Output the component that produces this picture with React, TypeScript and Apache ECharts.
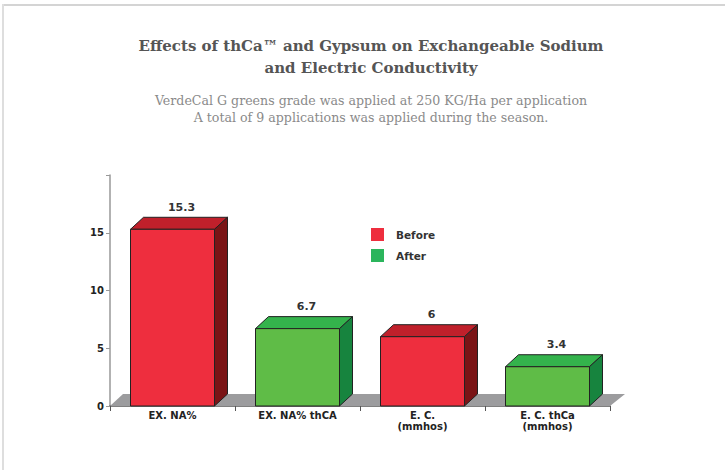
import React, { useEffect, useRef } from "react";
import * as echarts from "echarts";

const categories = ["EX. NA%", "EX. NA% thCA", "E. C.\n(mmhos)", "E. C. thCa\n(mmhos)"];
const beforeValues: [number, number][] = [[0, 15.3], [2, 6]];
const afterValues: [number, number][] = [[1, 6.7], [3, 3.4]];
const yTicks = [0, 5, 10, 15, 20];

const titleText = "Effects of thCa\u2122 and Gypsum on Exchangeable Sodium\nand Electric Conductivity";
const subText = "VerdeCal G greens grade was applied at 250 KG/Ha per application\nA total of 9 applications was applied during the season.";

const DX = 13;
const DY = 12;

function makeRender(front: string, top: string, side: string) {
  return (params: any, api: any) => {
    const idx = api.value(0);
    const val = api.value(1);
    const base = api.coord([idx, 0]);
    const tp = api.coord([idx, val]);
    const bw = api.size([1, 0])[0] * 0.672;
    const x0 = base[0] - bw / 2;
    const x1 = base[0] + bw / 2;
    const y0 = base[1];
    const y1 = tp[1];
    const stroke = "#222";
    return {
      type: "group",
      children: [
        {
          type: "polygon",
          shape: { points: [[x0, y1], [x1, y1], [x1 + DX, y1 - DY], [x0 + DX, y1 - DY]] },
          style: { fill: top, stroke, lineWidth: 1 },
        },
        {
          type: "polygon",
          shape: { points: [[x1, y0], [x1, y1], [x1 + DX, y1 - DY], [x1 + DX, y0 - DY]] },
          style: { fill: side, stroke, lineWidth: 1 },
        },
        {
          type: "rect",
          shape: { x: x0, y: y1, width: bw, height: y0 - y1 },
          style: { fill: front, stroke, lineWidth: 1 },
        },
        {
          type: "text",
          style: {
            text: String(val),
            x: base[0] + 9,
            y: y1 - DY - 10,
            align: "center",
            verticalAlign: "middle",
            fontFamily: "DejaVu Sans",
            fontWeight: "bold",
            fontSize: 11,
            fill: "#333",
          },
        },
      ],
    };
  };
}

export default function App() {
  const ref = useRef<HTMLDivElement>(null);
  useEffect(() => {
    if (!ref.current) return;
    const chart = echarts.init(ref.current, undefined, { renderer: "svg" });
    chart.setOption({
      animation: false,
      backgroundColor: "#fff",
      title: {
        text: titleText,
        subtext: subText,
        left: 366,
        textAlign: "center",
        top: 30,
        itemGap: 13,
        textStyle: {
          fontFamily: "DejaVu Serif",
          fontWeight: "bold",
          fontSize: 15,
          lineHeight: 22,
          color: "#555",
        },
        subtextStyle: {
          fontFamily: "DejaVu Serif",
          fontSize: 12.6,
          lineHeight: 17,
          color: "#8a8a8a",
        },
      },
      legend: {
        orient: "vertical",
        left: 366,
        top: 223,
        itemWidth: 13,
        itemHeight: 13,
        itemGap: 8,
        icon: "rect",
        textStyle: {
          fontFamily: "DejaVu Sans",
          fontWeight: "bold",
          fontSize: 10.5,
          color: "#333",
          padding: [0, 0, 0, 7],
        },
        data: [
          { name: "Before", itemStyle: { color: "#ee2e3e" } },
          { name: "After", itemStyle: { color: "#2bb55c" } },
        ],
      },
      grid: { left: 110, right: 115, top: 175, bottom: 64, containLabel: false },
      xAxis: {
        type: "category",
        data: categories,
        axisLine: { lineStyle: { color: "#555", width: 1.5 } },
        axisTick: { show: true, length: 5, lineStyle: { color: "#555" } },
        axisLabel: {
          margin: 4,
          fontFamily: "DejaVu Sans",
          fontWeight: "bold",
          fontSize: 10,
          lineHeight: 11,
          color: "#222",
          interval: 0,
        },
      },
      yAxis: {
        type: "value",
        min: yTicks[0],
        max: yTicks[yTicks.length - 1],
        interval: 5,
        splitLine: { show: false },
        axisLine: { show: true, lineStyle: { color: "#999", width: 1.5 } },
        axisTick: { show: true, length: 4, lineStyle: { color: "#999" } },
        axisLabel: {
          margin: 6,
          fontFamily: "DejaVu Sans",
          fontWeight: "bold",
          fontSize: 10,
          color: "#222",
          formatter: (v: number) => (v === 20 ? "" : String(v)),
        },
      },
      graphic: [
        { type: "rect", shape: { x: 3, y: 4, width: 722, height: 2 }, style: { fill: "#d4d4d4" }, silent: true },
        { type: "rect", shape: { x: 2, y: 4, width: 2, height: 466 }, style: { fill: "#dedede" }, silent: true },
      ],
      series: [
        {
          type: "custom",
          name: "floor",
          silent: true,
          z: 1,
          data: [[0, 0]],
          renderItem: (params: any, api: any) => {
            const cs = params.coordSys;
            const bx = cs.x;
            const by = cs.y + cs.height;
            const ex = cs.x + cs.width;
            return {
              type: "polygon",
              shape: { points: [[bx, by], [ex, by], [ex + DX + 2, by - DY], [bx + DX, by - DY]] },
              style: { fill: "#9c9c9e" },
            };
          },
        },
        {
          type: "custom",
          name: "Before",
          z: 2,
          itemStyle: { color: "#ee2e3e" },
          encode: { x: 0, y: 1 },
          data: beforeValues,
          renderItem: makeRender("#ee2e3e", "#c0202b", "#7a1416"),
        },
        {
          type: "custom",
          name: "After",
          z: 2,
          itemStyle: { color: "#2bb55c" },
          encode: { x: 0, y: 1 },
          data: afterValues,
          renderItem: makeRender("#5fbc47", "#34b34c", "#17843e"),
        },
      ],
    });
    return () => chart.dispose();
  }, []);
  return (
    <div
      ref={ref}
      style={{ position: "fixed", left: 0, top: 0, width: 725, height: 470 }}
    />
  );
}
